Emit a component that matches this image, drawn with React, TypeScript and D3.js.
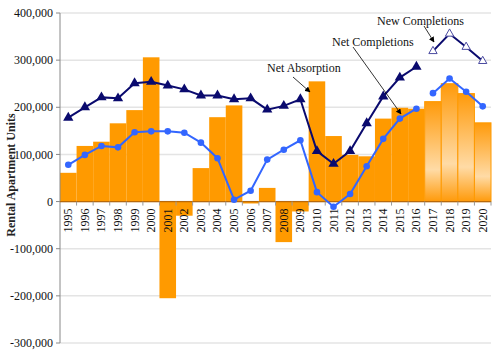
import * as d3 from 'd3';
import { FC } from 'react';

const years = d3.range(1995, 2021).map(String);
const absorption = [61000, 118000, 127000, 166000, 194000, 306000, -205000, -30000, 71000, 179000, 204000, -4000, 29000, -86000, -21000, 255000, 139000, 99000, 96000, 176000, 199000, 197000, 212000, 250000, 229000, 167000];
const forecastFrom = '2017';
const newCompletions = [178000, 200000, 221000, 219000, 251000, 254000, 246000, 238000, 225000, 225000, 217000, 219000, 195000, 203000, 217000, 107000, 80000, 107000, 166000, 223000, 263000, 286000];
const newCompletionsForecast = [319000, 356000, 328000, 298000];
const netCompletions = [78000, 99000, 118000, 115000, 147000, 149000, 149000, 146000, 125000, 92000, 4000, 23000, 89000, 110000, 130000, 20000, -11000, 16000, 75000, 133000, 176000, 197000];
const netCompletionsForecast = [230000, 261000, 233000, 202000];
const yTicks = [-300000, -200000, -100000, 0, 100000, 200000, 300000, 400000];

const font = "'Liberation Serif', 'DejaVu Serif', serif";

const App: FC = () => {
  const width = 500;
  const height = 350;
  const margin = { left: 60, right: 9, top: 13, bottom: 7 };

  const x = d3.scaleBand<string>().domain(years).range([margin.left, width - margin.right]).padding(0);
  const y = d3.scaleLinear().domain([-300000, 400000]).range([height - margin.bottom, margin.top]);
  const cx = (yr: string) => (x(yr) as number) + x.bandwidth() / 2;

  const histYears = years.slice(0, newCompletions.length);
  const fcYears = years.slice(newCompletions.length);

  const line = d3
    .line<[string, number]>()
    .x((d) => cx(d[0]))
    .y((d) => y(d[1]));

  const tri = d3.symbol().type(d3.symbolTriangle).size(46)();
  const triSmall = d3.symbol().type(d3.symbolTriangle).size(30)();
  const fmt = (v: number) => d3.format(',')(v).replace('\u2212', '-');

  return (
    <svg width={width} height={height} style={{ position: 'absolute', left: 0, top: 0, background: '#fff', fontFamily: font }}>
      <defs>
        <linearGradient id="fc" x1="0" y1="0" x2="0" y2="1">
          <stop offset="0" stopColor="#FF9A0A" />
          <stop offset="0.68" stopColor="#FFDBA6" />
          <stop offset="1" stopColor="#FF9A0A" />
        </linearGradient>
        <marker id="arr" viewBox="0 0 10 10" refX="9" refY="5" markerWidth="7" markerHeight="7" orient="auto">
          <path d="M0,0L10,5L0,10z" fill="#000" />
        </marker>
      </defs>

      {/* grid */}
      {yTicks.map((t) => (
        <line key={t} x1={margin.left} x2={width - margin.right} y1={y(t)} y2={y(t)} stroke="#e4e4e4" strokeWidth={1.5} />
      ))}

      {/* bars */}
      {years.map((yr, i) => {
        const v = absorption[i];
        const fc = yr >= forecastFrom;
        return (
          <rect
            key={yr}
            x={x(yr)}
            width={x.bandwidth()}
            y={y(Math.max(0, v))}
            height={Math.abs(y(v) - y(0))}
            fill={fc ? 'url(#fc)' : '#FF9A00'}
            stroke={fc ? '#FF9A00' : 'none'}
            strokeWidth={1}
          />
        );
      })}

      {/* y axis */}
      <line x1={margin.left} x2={margin.left} y1={y(400000)} y2={y(-300000)} stroke="#888" />
      {yTicks.map((t) => (
        <g key={t}>
          <line x1={margin.left - 4} x2={margin.left} y1={y(t)} y2={y(t)} stroke="#888" />
          <text x={margin.left - 7} y={y(t)} dy="0.35em" textAnchor="end" fontSize={12} fill="#111">
            {fmt(t)}
          </text>
        </g>
      ))}

      {/* x axis at zero */}
      <line x1={margin.left} x2={width - margin.right} y1={y(0)} y2={y(0)} stroke="#B8690A" strokeWidth={1.2} />
      {years.map((yr) => (
        <line key={yr} x1={(x(yr) as number) + x.bandwidth()} x2={(x(yr) as number) + x.bandwidth()} y1={y(0)} y2={y(0) + 4} stroke="#999" />
      ))}
      {years.map((yr) => (
        <text key={yr} transform={`translate(${cx(yr) + 4},${y(0) + 7}) rotate(-90)`} textAnchor="end" fontSize={12} fill="#111">
          {yr}
        </text>
      ))}

      {/* net completions (blue) */}
      <path d={line(histYears.map((yr, i) => [yr, netCompletions[i]])) as string} fill="none" stroke="#3366FF" strokeWidth={2} />
      <path d={line(fcYears.map((yr, i) => [yr, netCompletionsForecast[i]])) as string} fill="none" stroke="#3366FF" strokeWidth={2} />
      {histYears.map((yr, i) => (
        <circle key={yr} cx={cx(yr)} cy={y(netCompletions[i])} r={3.3} fill="#3366FF" />
      ))}
      {fcYears.map((yr, i) => (
        <circle key={yr} cx={cx(yr)} cy={y(netCompletionsForecast[i])} r={3.3} fill="#3366FF" />
      ))}

      {/* new completions (navy) */}
      <path d={line(histYears.map((yr, i) => [yr, newCompletions[i]])) as string} fill="none" stroke="#0A0A6E" strokeWidth={2} />
      <path d={line(fcYears.map((yr, i) => [yr, newCompletionsForecast[i]])) as string} fill="none" stroke="#0A0A6E" strokeWidth={2} />
      {histYears.map((yr, i) => (
        <path key={yr} d={tri as string} transform={`translate(${cx(yr)},${y(newCompletions[i])})`} fill="#0A0A6E" />
      ))}
      {fcYears.map((yr, i) => (
        <path key={yr} d={triSmall as string} transform={`translate(${cx(yr)},${y(newCompletionsForecast[i])})`} fill="#fff" stroke="#4A4AA0" strokeWidth={1} />
      ))}

      {/* annotations */}
      <text x={267} y={72} fontSize={12} fill="#111">Net Absorption</text>
      <line x1={293} y1={77} x2={310} y2={92} stroke="#000" strokeWidth={0.8} markerEnd="url(#arr)" />
      <text x={332} y={46} fontSize={12} fill="#111">Net Completions</text>
      <line x1={353} y1={47} x2={401} y2={114} stroke="#000" strokeWidth={0.8} markerEnd="url(#arr)" />
      <text x={377} y={25} fontSize={12} fill="#111">New Completions</text>
      <line x1={424} y1={26} x2={434} y2={42} stroke="#000" strokeWidth={0.8} markerEnd="url(#arr)" />

      {/* y label */}
      <text transform={`translate(15,175) rotate(-90)`} textAnchor="middle" fontSize={12} fontWeight="bold" fill="#222">
        Rental Apartment Units
      </text>
    </svg>
  );
};

export default App;
